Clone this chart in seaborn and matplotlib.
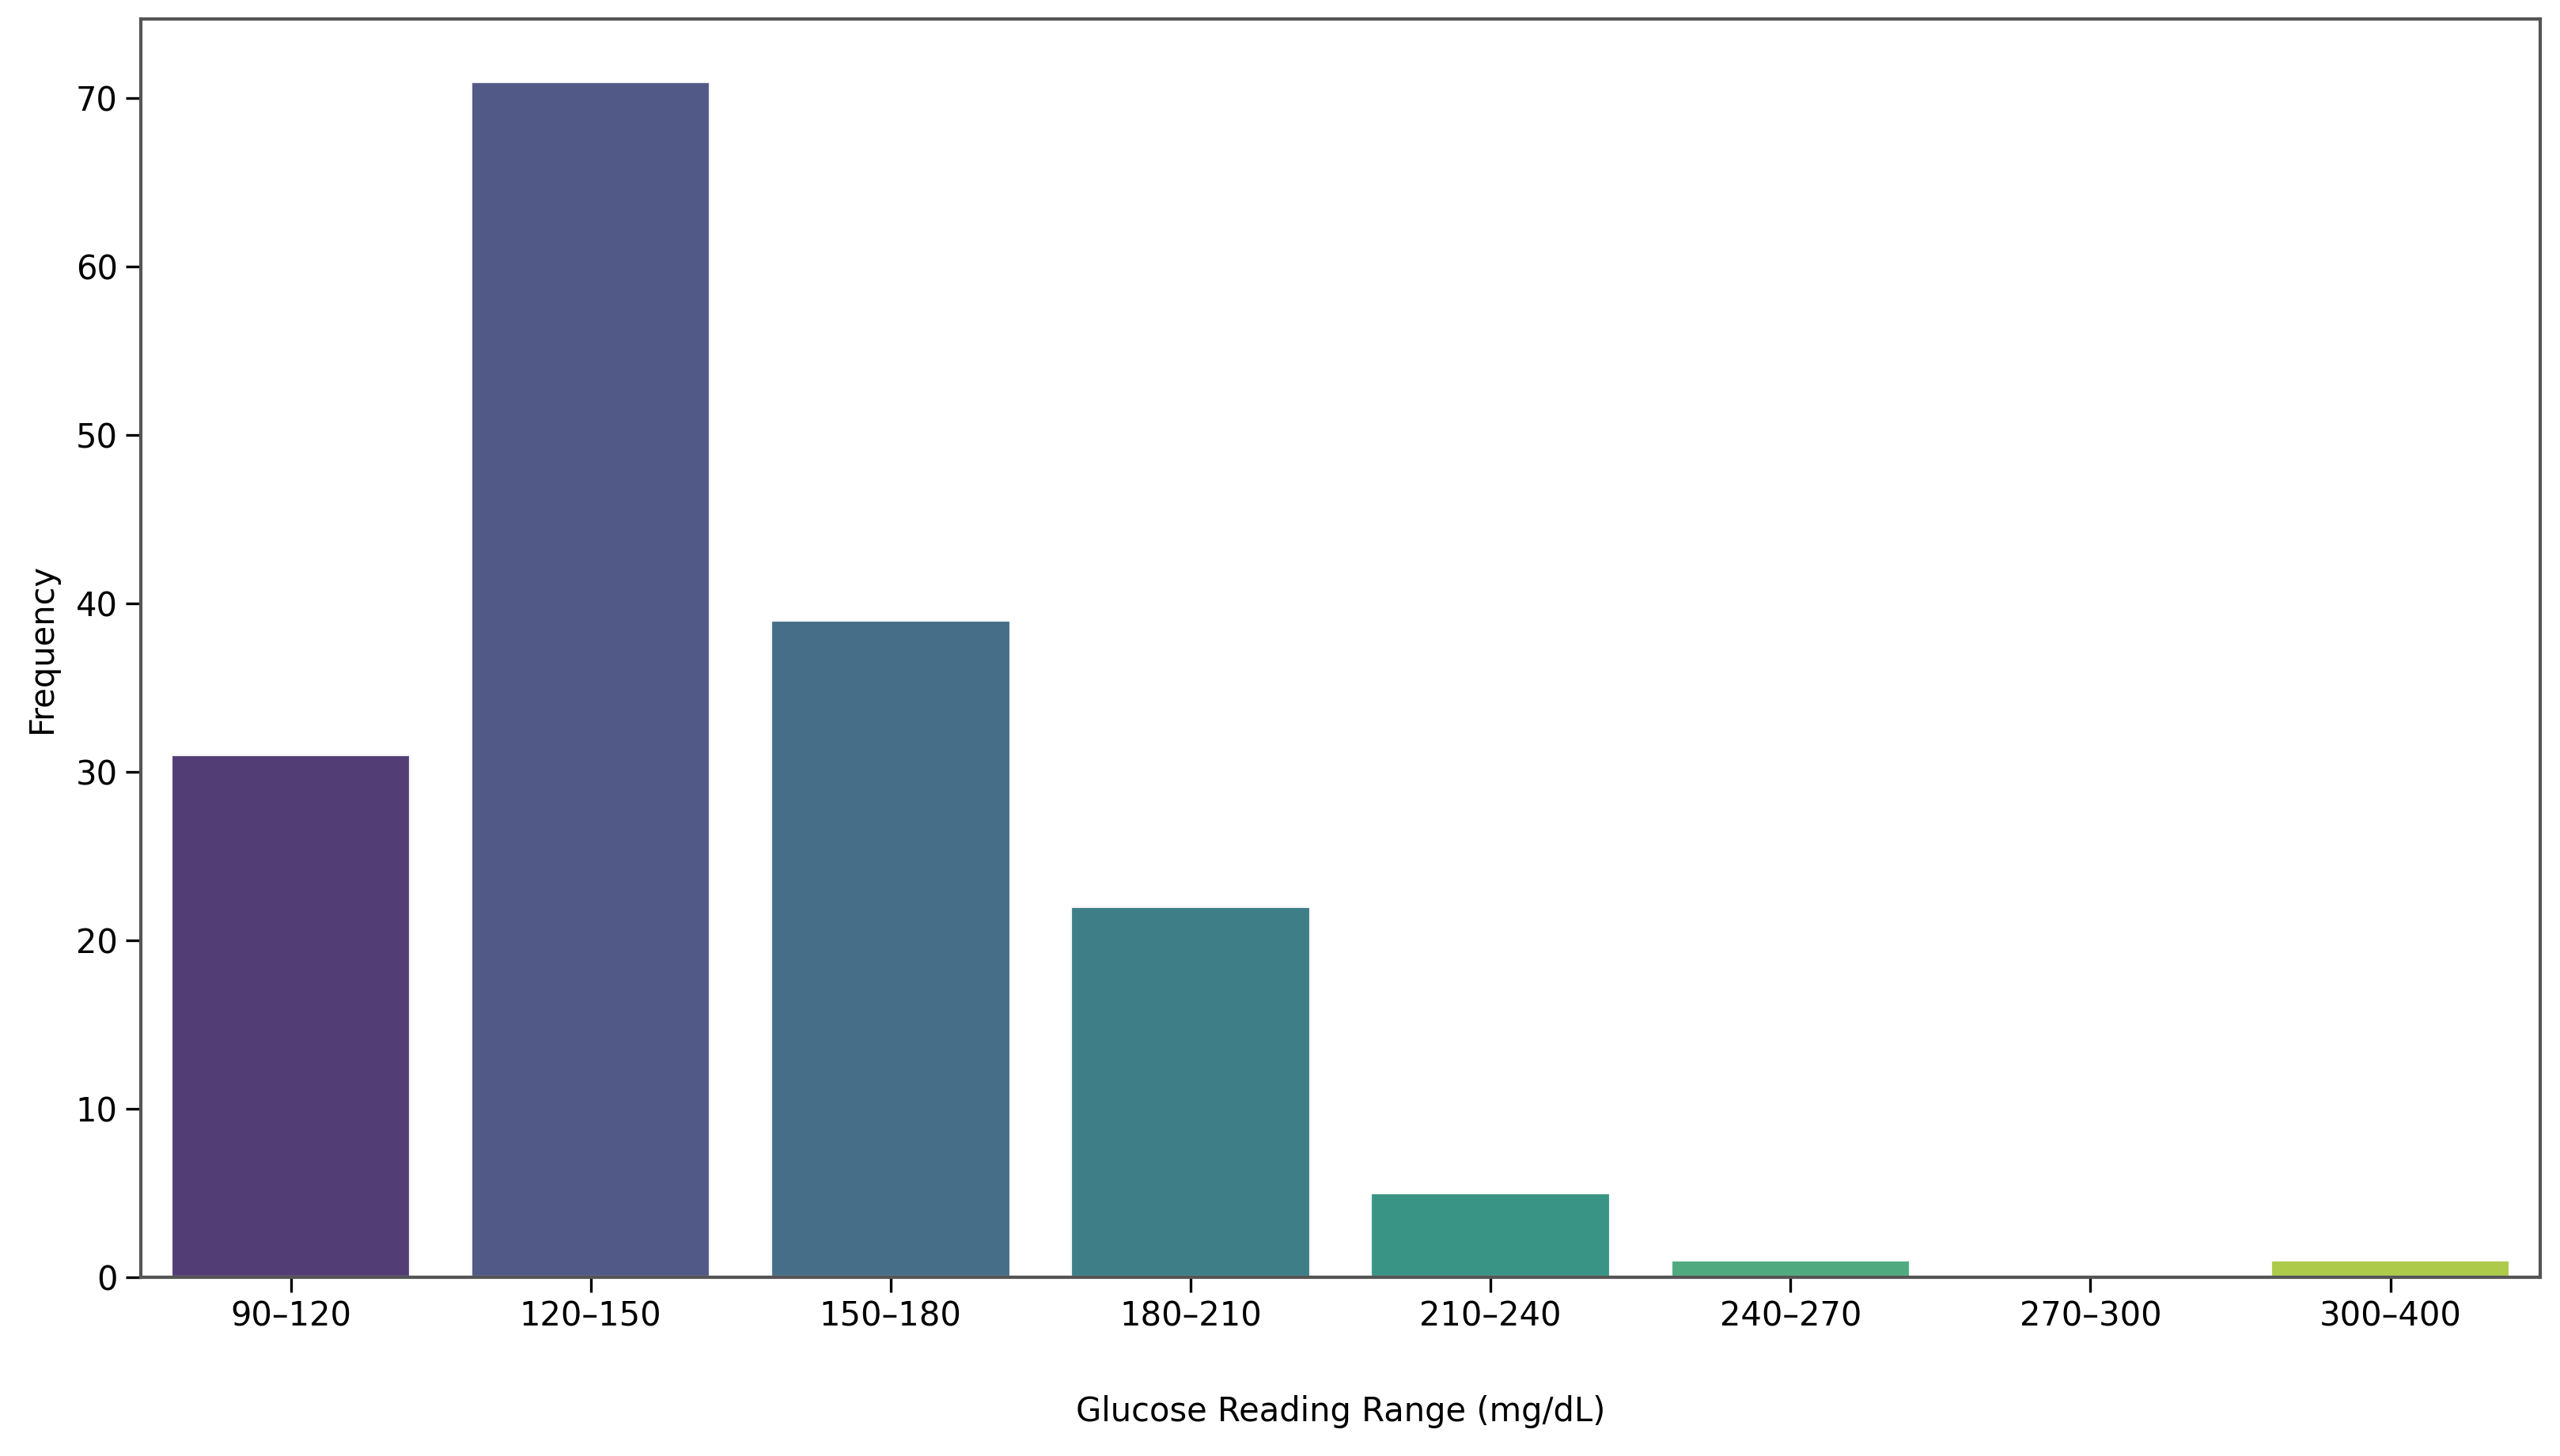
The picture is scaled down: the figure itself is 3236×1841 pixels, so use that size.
import matplotlib
matplotlib.use("Agg")
import matplotlib.pyplot as plt
import seaborn as sns
import pandas as pd

ranges = ["90–120", "120–150", "150–180", "180–210", "210–240", "240–270", "270–300", "300–400"]
counts = [31, 71, 39, 22, 5, 1, 0, 1]

df = pd.DataFrame({"range": ranges, "count": counts})

fig = plt.figure(figsize=(16.185, 9.205), dpi=200)
ax = fig.add_axes([0.055, 0.123, 0.937, 0.864])
sns.barplot(data=df, x="range", y="count", hue="range", palette="viridis",
            legend=False, ax=ax, alpha=0.95, edgecolor="white", linewidth=1.5)
ax.set_ylim(0, 74.7)
ax.set_xlim(-0.5, 7.5)
ax.set_xlabel("Glucose Reading Range (mg/dL)", fontsize=15, labelpad=28)
ax.set_ylabel("Frequency", fontsize=15, labelpad=8)
ax.tick_params(labelsize=15, length=7, width=1.2)
for s in ax.spines.values():
    s.set_color("#555555")
    s.set_linewidth(1.5)

fig.savefig("out.png", dpi=200)
